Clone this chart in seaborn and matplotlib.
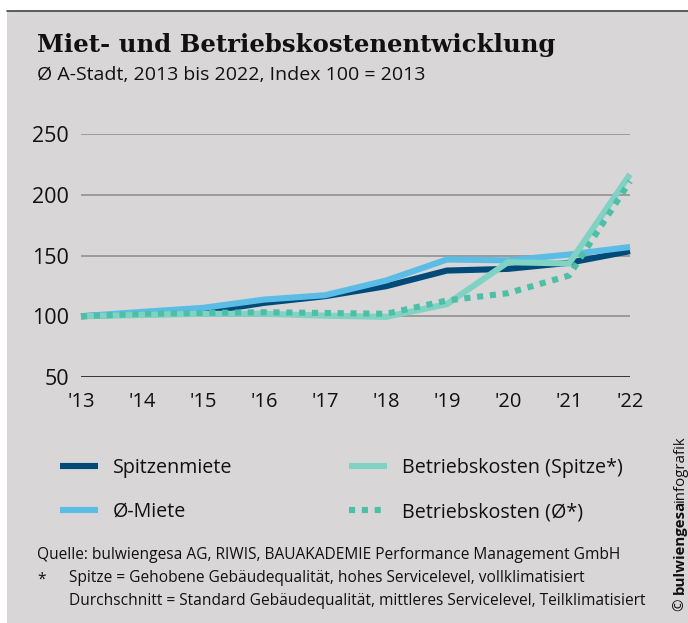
import numpy as np
import pandas as pd
import matplotlib
matplotlib.use('Agg')
import matplotlib.pyplot as plt
import seaborn as sns
from matplotlib.lines import Line2D

# %% data (index 100 = 2013)

years = [2013, 2014, 2015, 2016, 2017, 2018, 2019, 2020, 2021, 2022]
year_labels = ["'13", "'14", "'15", "'16", "'17", "'18", "'19", "'20", "'21", "'22"]

spitzenmiete = [100, 102, 103.3, 111, 116.5, 124.7, 137.6, 139, 144, 153.6]
miete_avg = [100, 103.6, 106.9, 113.7, 117.3, 129.4, 146.7, 146, 150.8, 157]
bk_spitze = [100, 101, 102, 102, 100.5, 99.5, 110, 144.5, 143.4, 216.8]
bk_avg = [100, 102, 102.7, 103.3, 102.7, 102, 113, 119, 133.5, 211]

series_names = ['Spitzenmiete', 'Ø-Miete', 'Betriebskosten (Spitze*)', 'Betriebskosten (Ø*)']
y_ticks = [50, 100, 150, 200, 250]

# %% style

bg = '#d8d6d7'
colors = ['#004a7a', '#5bbde6', '#80d2c3', '#4dbfa7']
styles = ['-', '-', '-', (0, (1, 1.1))]

sns.set_style('white')
plt.rcParams['font.family'] = ['Open Sans', 'DejaVu Sans']

fig = plt.figure(figsize=(6.88, 6.23), dpi=100)
fig.patch.set_facecolor('white')

# grey panel + dark rule at top
fig.patches.append(plt.Rectangle((7 / 688, 0), 1, 1 - 11 / 623, transform=fig.transFigure,
                                 facecolor=bg, edgecolor='none', zorder=-10))
fig.add_artist(Line2D([7 / 688, 1], [1 - 10.5 / 623] * 2, transform=fig.transFigure,
                      color='#444444', lw=1.2))

ax = fig.add_axes([81 / 688, 1 - 377 / 623, 549 / 688, 243 / 623])
ax.set_facecolor('none')

# %% lines

all_values = [spitzenmiete, miete_avg, bk_spitze, bk_avg]
for name, vals, c, ls in zip(series_names, all_values, colors, styles):
    df = pd.DataFrame({'jahr': years, 'wert': vals})
    sns.lineplot(data=df, x='jahr', y='wert', ax=ax, color=c, linewidth=4.4,
                 linestyle=ls, solid_capstyle='butt', dash_capstyle='butt',
                 solid_joinstyle='miter', clip_on=False, label=name, legend=False)

ax.set_xlim(years[0], years[-1])
ax.set_ylim(50, 250)
for t in y_ticks:
    ax.axhline(t, color='#1a1a1a' if t == 50 else '#8c8a8b', lw=1.2 if t == 50 else 1.1, zorder=0)

ax.set_xticks(years)
ax.set_xticklabels(year_labels)
ax.set_yticks(y_ticks)
ax.set_yticklabels([str(t) for t in y_ticks])
ax.tick_params(axis='y', length=0, pad=8.5, labelsize=15.5, colors='#111111')
ax.tick_params(axis='x', length=0, pad=11, labelsize=14.5, colors='#111111')
ax.set_xlabel('')
ax.set_ylabel('')
sns.despine(ax=ax, left=True, bottom=True)

# %% legend

handles = [Line2D([], [], color=c, lw=4.4, linestyle=ls, solid_capstyle='butt', dash_capstyle='butt')
           for c, ls in zip(colors, styles)]
leg = fig.legend(handles, series_names, ncol=2, loc='upper left',
                 bbox_to_anchor=(60 / 688, 1 - 458 / 623), frameon=False,
                 borderpad=0, borderaxespad=0,
                 fontsize=14.2, handlelength=1.93, handletextpad=0.76,
                 columnspacing=5.9, labelspacing=1.22)
for t in leg.get_texts():
    t.set_color('#111111')

# %% titles and notes

fig.text(37 / 688, 1 - 45 / 623, 'Miet- und Betriebskostenentwicklung', family='DejaVu Serif',
         weight='bold', fontsize=17.6, va='center', ha='left', color='#111111')
fig.text(37 / 688, 1 - 75 / 623, 'Ø A-Stadt, 2013 bis 2022, Index 100 = 2013',
         fontsize=14, va='center', ha='left', color='#111111')

note_size = 11.2
fig.text(37 / 688, 1 - 555 / 623,
         'Quelle: bulwiengesa AG, RIWIS, BAUAKADEMIE Performance Management GmbH',
         fontsize=note_size, va='center', ha='left', color='#111111')
fig.text(37 / 688, 1 - 580 / 623, '*', fontsize=note_size, va='center', ha='left', color='#111111')
fig.text(69 / 688, 1 - 578 / 623,
         'Spitze = Gehobene Gebäudequalität, hohes Servicelevel, vollklimatisiert',
         fontsize=note_size, va='center', ha='left', color='#111111')
fig.text(69 / 688, 1 - 601 / 623,
         'Durchschnitt = Standard Gebäudequalität, mittleres Servicelevel, Teilklimatisiert',
         fontsize=note_size, va='center', ha='left', color='#111111')

# vertical credit line
fig.canvas.draw()
r = fig.canvas.get_renderer()
y_px = 611
for txt, w, trim in [('©', 'normal', -4), ('bulwiengesa', 'bold', 2), ('infografik', 'normal', 0)]:
    t = fig.text(680 / 688, 1 - y_px / 623, txt, rotation=90, fontsize=10.8, weight=w,
                 ha='center', va='bottom', color='#111111')
    y_px -= t.get_window_extent(r).height - trim

plt.savefig('out.png', dpi=100, facecolor=fig.get_facecolor())
